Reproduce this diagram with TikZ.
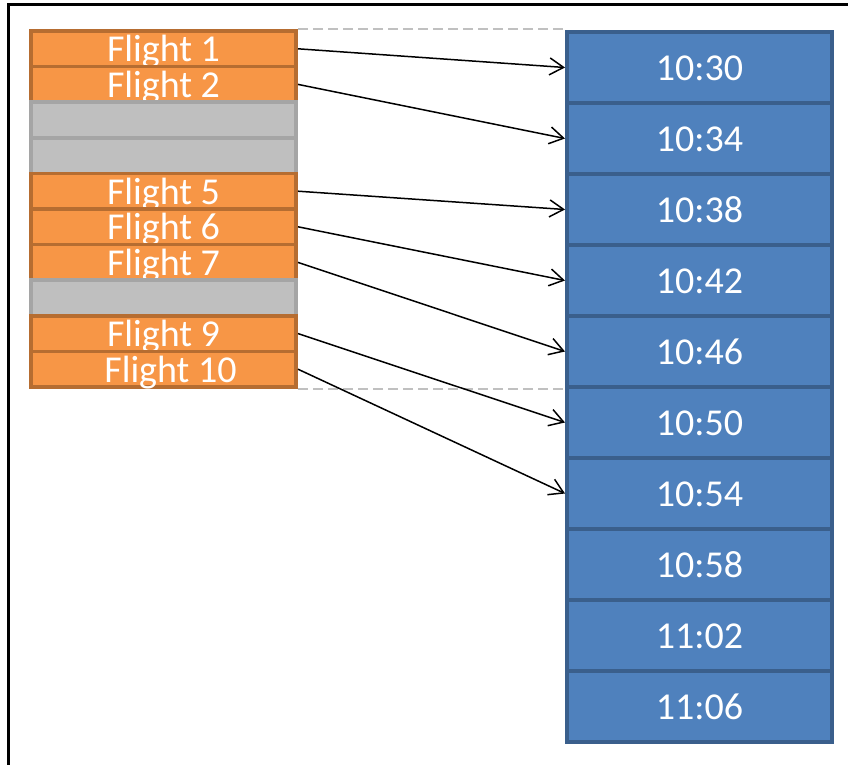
\documentclass[tikz,border=0pt]{standalone}
\usepackage{fontspec}
\setmainfont{Carlito}
\usetikzlibrary{arrows.meta}
\definecolor{orfill}{HTML}{F79646}
\definecolor{ordraw}{HTML}{B66D31}
\definecolor{grfill}{HTML}{BFBFBF}
\definecolor{grdraw}{HTML}{A5A5A5}
\definecolor{blfill}{HTML}{4F81BD}
\definecolor{bldraw}{HTML}{3A5F8C}
\definecolor{dashgray}{HTML}{C0C0C0}
\begin{document}
\begin{tikzpicture}[x=1pt,y=-1pt,
  cell/.style={rectangle, inner sep=0pt, text height=26pt, text depth=0pt,
    text=white, font=\fontsize{38}{42}\selectfont},
  flight/.style={cell, fill=orfill, draw=ordraw, line width=3.6pt,
    minimum width=265.4pt, minimum height=35.6pt},
  emptyslot/.style={cell, fill=grfill, draw=grdraw, line width=3.6pt,
    minimum width=265.4pt, minimum height=35.6pt},
  slot/.style={cell, fill=blfill, draw=bldraw, line width=4.4pt,
    minimum width=264.6pt, minimum height=71pt},
  link/.style={line width=1.5pt, -{Straight Barb[length=14pt,width=17pt,line width=1.5pt]}},
  guide/.style={dashgray, line width=2pt, dash pattern=on 10pt off 5pt},
  frame/.style={line width=3pt, black}
]
\useasboundingbox (0,0) rectangle (848,765);
\draw[frame] (8,770) -- (8,5) -- (860,5);

% blue time slots
\foreach \t [count=\i from 0] in {10:30,10:34,10:38,10:42,10:46,10:50,10:54,10:58,11:02,11:06}
  \node[slot] (b\i) at (699.5, 67.5+71*\i) {\t};

% flight rows
\node[flight]    (o0) at (163.5, 48.8+35.6*0) {Flight 1};
\node[flight]    (o1) at (163.5, 48.8+35.6*1) {Flight 2};
\node[emptyslot] (o2) at (163.5, 48.8+35.6*2) {};
\node[emptyslot] (o3) at (163.5, 48.8+35.6*3) {};
\node[flight]    (o4) at (163.5, 48.8+35.6*4) {Flight 5};
\node[flight]    (o5) at (163.5, 48.8+35.6*5) {Flight 6};
\node[flight]    (o6) at (163.5, 48.8+35.6*6) {Flight 7};
\node[emptyslot] (o7) at (163.5, 48.8+35.6*7) {};
\node[flight]    (o8) at (163.5, 48.8+35.6*8) {Flight 9};
\node[flight]    (o9) at (163.5, 48.8+35.6*9) {\hspace*{14pt}Flight 10};

% guides
\draw[guide] (o0.north east) -- (o0.north east -| b0.west);
\draw[guide] (o9.south east) -- (o9.south east -| b4.west);

% links
\draw[link] (o0.east) -- (b0.west);
\draw[link] (o1.east) -- (b1.west);
\draw[link] (o4.east) -- (b2.west);
\draw[link] (o5.east) -- (b3.west);
\draw[link] (o6.east) -- (b4.west);
\draw[link] (o8.east) -- (b5.west);
\draw[link] (o9.east) -- (b6.west);
\end{tikzpicture}
\end{document}
